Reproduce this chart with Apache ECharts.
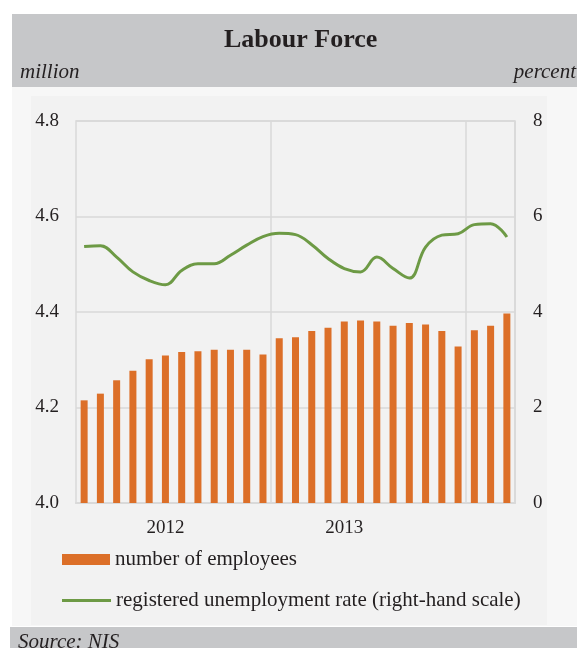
<!DOCTYPE html>
<html lang="en">
<head>
<meta charset="UTF-8">
<title>Labour Force</title>
<script src="https://cdn.jsdelivr.net/npm/echarts@6/dist/echarts.min.js"></script>
<style>
html, body { margin: 0; padding: 0; background: #ffffff; }
#chart { width: 577px; height: 648px; }
</style>
</head>
<body>
<div id="chart"></div>
<script>
// monthly data, Jan 2012 - Mar 2014
const months = [
  '2012-01','2012-02','2012-03','2012-04','2012-05','2012-06','2012-07','2012-08','2012-09','2012-10','2012-11','2012-12',
  '2013-01','2013-02','2013-03','2013-04','2013-05','2013-06','2013-07','2013-08','2013-09','2013-10','2013-11','2013-12',
  '2014-01','2014-02','2014-03'
];
// number of employees, million (left axis)
const employees = [
  4.215, 4.229, 4.257, 4.277, 4.301, 4.309, 4.316, 4.318, 4.321, 4.321, 4.321, 4.311,
  4.345, 4.347, 4.360, 4.367, 4.380, 4.382, 4.380, 4.371, 4.377, 4.374, 4.360, 4.328,
  4.362, 4.371, 4.397
];
// registered unemployment rate, percent (right axis)
const unemployment = [
  5.37, 5.39, 5.15, 4.84, 4.66, 4.57, 4.87, 5.01, 5.01, 5.19, 5.40, 5.58,
  5.65, 5.62, 5.41, 5.12, 4.91, 4.84, 5.15, 4.91, 4.71, 5.36, 5.61, 5.64,
  5.83, 5.85, 5.57
];
const yearLabels = ['2012', '2013'];
const yearLabelAt = [5, 16];
const yearBreaks = [12, 24];
const leftTicks = [4.0, 4.2, 4.4, 4.6, 4.8];
const rightTicks = [0, 2, 4, 6, 8];

const serif = '"Liberation Serif", "DejaVu Serif", serif';
const ink = '#231f20';
const gridGray = '#d9d9d9';
const orange = '#dc6f28';
const green = '#6d9a45';

const chart = echarts.init(document.getElementById('chart'));
chart.setOption({
  animation: false,
  backgroundColor: '#ffffff',
  graphic: [
    { type: 'rect', z: -10, shape: { x: 12, y: 14, width: 565, height: 73 }, style: { fill: '#c6c7c9' } },
    { type: 'rect', z: -10, shape: { x: 12, y: 87, width: 565, height: 539 }, style: { fill: '#f7f7f7' } },
    { type: 'rect', z: -9, shape: { x: 31, y: 96, width: 516, height: 529 }, style: { fill: '#f2f2f2' } },
    { type: 'rect', z: -10, shape: { x: 10, y: 627, width: 567, height: 21 }, style: { fill: '#c6c7c9' } },
    { type: 'text', left: 224, top: 27, style: { text: 'Labour Force', font: 'bold 26px ' + serif, fill: ink } },
    { type: 'text', left: 20, top: 62, style: { text: 'million', font: 'italic 21px ' + serif, fill: ink } },
    { type: 'text', right: 1, top: 62, style: { text: 'percent', font: 'italic 21px ' + serif, fill: ink } },
    { type: 'text', left: 18, top: 632, style: { text: 'Source: NIS', font: 'italic 21px ' + serif, fill: ink } }
  ],
  grid: {
    left: 76, right: 62, top: 121, bottom: 145,
    show: true, borderColor: gridGray, borderWidth: 1.5, backgroundColor: 'transparent'
  },
  legend: [
    {
      data: [{ name: 'number of employees', icon: 'rect' }],
      left: 62, top: 549, padding: 0, itemWidth: 48, itemHeight: 11, itemGap: 5,
      textStyle: { fontFamily: serif, fontSize: 21, color: ink }
    },
    {
      data: [{ name: 'registered unemployment rate (right-hand scale)', icon: 'rect' }],
      left: 62, top: 590, padding: 0, itemWidth: 49, itemHeight: 3, itemGap: 5,
      textStyle: { fontFamily: serif, fontSize: 21, color: ink }
    }
  ],
  xAxis: {
    type: 'category',
    data: months,
    boundaryGap: true,
    axisLine: { lineStyle: { color: gridGray, width: 2 } },
    axisTick: { show: false },
    splitLine: {
      show: true,
      interval: function (i) { return yearBreaks.indexOf(i) >= 0; },
      lineStyle: { color: gridGray, width: 1.5 }
    },
    axisLabel: {
      interval: 0,
      margin: 16,
      fontFamily: serif, fontSize: 19, color: ink,
      formatter: function (v, i) {
        const k = yearLabelAt.indexOf(i);
        return k >= 0 ? yearLabels[k] : '';
      }
    }
  },
  yAxis: [
    {
      type: 'value',
      min: leftTicks[0], max: leftTicks[leftTicks.length - 1], interval: 0.2,
      axisLine: { show: false }, axisTick: { show: false },
      splitLine: { lineStyle: { color: gridGray, width: 1.5 } },
      axisLabel: {
        margin: 17, fontFamily: serif, fontSize: 19, color: ink,
        formatter: function (v) { return v.toFixed(1); }
      }
    },
    {
      type: 'value',
      min: rightTicks[0], max: rightTicks[rightTicks.length - 1], interval: 2,
      axisLine: { show: false }, axisTick: { show: false },
      splitLine: { show: false },
      axisLabel: { margin: 18, fontFamily: serif, fontSize: 19, color: ink }
    }
  ],
  series: [
    {
      name: 'number of employees',
      type: 'bar',
      data: employees,
      yAxisIndex: 0,
      barWidth: 7,
      itemStyle: { color: orange }
    },
    {
      name: 'registered unemployment rate (right-hand scale)',
      type: 'line',
      data: unemployment,
      yAxisIndex: 1,
      smooth: 0.4,
      symbol: 'none',
      lineStyle: { color: green, width: 3 },
      itemStyle: { color: green }
    }
  ]
});
</script>
</body>
</html>
